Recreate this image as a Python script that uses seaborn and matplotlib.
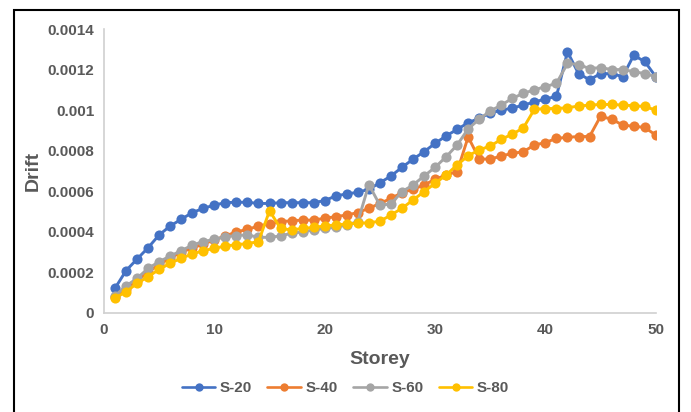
import numpy as np
import pandas as pd
import matplotlib
matplotlib.use("Agg")
import matplotlib.pyplot as plt
import seaborn as sns
from matplotlib.patches import Rectangle

storey = list(range(1, 51))
s20 = [0.000122, 0.000209, 0.000266, 0.000322, 0.000385, 0.000429, 0.000462, 0.000495, 0.000516, 0.000532,
       0.000544, 0.000546, 0.000546, 0.000540, 0.000540, 0.000544, 0.000544, 0.000544, 0.000544, 0.000554,
       0.000577, 0.000587, 0.000595, 0.000610, 0.000642, 0.000675, 0.000718, 0.000758, 0.000795, 0.000836,
       0.000873, 0.000905, 0.000938, 0.000960, 0.000985, 0.001000, 0.001010, 0.001025, 0.001040, 0.001055,
       0.001068, 0.001288, 0.001180, 0.001150, 0.001180, 0.001180, 0.001165, 0.001270, 0.001240, 0.001165]
s40 = [0.000080, 0.000120, 0.000160, 0.000200, 0.000240, 0.000270, 0.000300, 0.000320, 0.000340, 0.000360,
       0.000380, 0.000400, 0.000412, 0.000429, 0.000439, 0.000450, 0.000455, 0.000458, 0.000458, 0.000467,
       0.000475, 0.000483, 0.000495, 0.000516, 0.000540, 0.000565, 0.000593, 0.000610, 0.000631, 0.000659,
       0.000680, 0.000697, 0.000868, 0.000760, 0.000758, 0.000774, 0.000787, 0.000795, 0.000828, 0.000840,
       0.000861, 0.000866, 0.000870, 0.000870, 0.000970, 0.000955, 0.000927, 0.000920, 0.000915, 0.000877]
s60 = [0.000085, 0.000133, 0.000171, 0.000220, 0.000253, 0.000281, 0.000307, 0.000335, 0.000352, 0.000363,
       0.000376, 0.000382, 0.000385, 0.000373, 0.000373, 0.000380, 0.000393, 0.000400, 0.000409, 0.000417,
       0.000422, 0.000434, 0.000450, 0.000633, 0.000532, 0.000537, 0.000598, 0.000631, 0.000675, 0.000718,
       0.000770, 0.000828, 0.000908, 0.000955, 0.000996, 0.001025, 0.001058, 0.001083, 0.001100, 0.001116,
       0.001132, 0.001230, 0.001225, 0.001205, 0.001210, 0.001200, 0.001200, 0.001190, 0.001180, 0.001165]
s80 = [0.000073, 0.000105, 0.000146, 0.000179, 0.000215, 0.000245, 0.000270, 0.000291, 0.000307, 0.000319,
       0.000330, 0.000337, 0.000342, 0.000352, 0.000504, 0.000417, 0.000409, 0.000417, 0.000422, 0.000429,
       0.000434, 0.000439, 0.000442, 0.000445, 0.000452, 0.000483, 0.000516, 0.000557, 0.000598, 0.000639,
       0.000680, 0.000730, 0.000775, 0.000804, 0.000823, 0.000856, 0.000882, 0.000912, 0.001004, 0.001008,
       0.001008, 0.001012, 0.001020, 0.001025, 0.001028, 0.001028, 0.001025, 0.001022, 0.001018, 0.001000]
series_names = ["S-20", "S-40", "S-60", "S-80"]
colors = ["#4472C4", "#ED7D31", "#A5A5A5", "#FFC000"]
x_ticks = [0, 10, 20, 30, 40, 50]
y_ticks = [0, 0.0002, 0.0004, 0.0006, 0.0008, 0.001, 0.0012, 0.0014]
y_tick_labels = ["0", "0.0002", "0.0004", "0.0006", "0.0008", "0.001", "0.0012", "0.0014"]

df = pd.DataFrame({
    "Storey": storey * 4,
    "Drift": s20 + s40 + s60 + s80,
    "Series": sum([[n] * len(storey) for n in series_names], []),
})

sns.set_theme(style="white")
plt.rcParams["font.family"] = ["Liberation Sans Narrow", "Liberation Sans", "DejaVu Sans"]

fig = plt.figure(figsize=(6.91, 4.12), dpi=100)
ax = fig.add_axes([0.1505, 0.2403, 0.949 - 0.1505, 0.9296 - 0.2403])

sns.lineplot(data=df, x="Storey", y="Drift", hue="Series", hue_order=series_names,
             palette=colors, marker="o", markersize=7.3, markeredgewidth=0,
             linewidth=2.1, ax=ax, legend=False)

ax.set_xlim(0, 50)
ax.set_ylim(0, 0.0014)
ax.set_xticks(x_ticks)
ax.set_yticks(y_ticks)
ax.set_yticklabels(y_tick_labels)
ax.tick_params(axis="both", length=0, labelsize=11, colors="#595959", pad=7)
for lab in ax.get_xticklabels() + ax.get_yticklabels():
    lab.set_fontweight("bold")
for s in ["top", "right"]:
    ax.spines[s].set_visible(False)
for s in ["left", "bottom"]:
    ax.spines[s].set_color("#D0D0D0")
    ax.spines[s].set_linewidth(1.2)

ax.set_xlabel("Storey", fontsize=14, fontweight="bold", color="#595959", labelpad=10)
ax.set_ylabel("Drift", fontsize=14, fontweight="bold", color="#595959", labelpad=4)

handles = [plt.Line2D([0], [0], color=c, marker="o", markersize=6, linewidth=1.9, markeredgewidth=0)
           for c in colors]
leg = fig.legend(handles, series_names, loc="center", bbox_to_anchor=(0.5, 0.058), ncol=4,
                 frameon=False, fontsize=11, handlelength=2.2, columnspacing=1.0, handletextpad=0.3)
for t in leg.get_texts():
    t.set_color("#595959")
    t.set_fontweight("bold")

fig.patches.append(Rectangle((14 / 691, -0.02), (679 - 14) / 691, 1 - 10 / 412 + 0.02,
                             transform=fig.transFigure, fill=False, edgecolor="black",
                             linewidth=1.5, zorder=10))

fig.savefig("out.png", dpi=100)
